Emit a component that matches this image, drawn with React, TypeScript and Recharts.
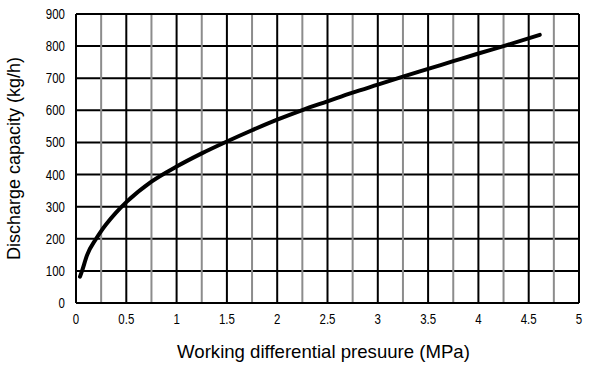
import React from "react";
import { LineChart, Line, XAxis, YAxis, CartesianGrid, ReferenceLine, Label } from "recharts";

const pressure = [0.04, 0.06, 0.11, 0.2, 0.25, 0.3, 0.4, 0.5, 0.75, 1, 1.25, 1.5, 1.75, 2, 2.25, 2.5, 2.75, 3, 3.25, 3.5, 3.75, 4, 4.25, 4.61];
const capacity = [82, 100, 149, 200, 224, 245, 282, 314, 378, 425, 466, 503, 538, 571, 601, 628, 655, 680, 705, 729, 753, 777, 800, 835];
const xTicks = [0, 0.5, 1, 1.5, 2, 2.5, 3, 3.5, 4, 4.5, 5];
const xMinorLines = [0.25, 0.75, 1.25, 1.75, 2.25, 2.75, 3.25, 3.75, 4.25, 4.75];
const yTicks = [0, 100, 200, 300, 400, 500, 600, 700, 800, 900];

const data = pressure.map((p, i) => ({ p, c: capacity[i] }));

const narrowFont = "'Liberation Sans', Arial, sans-serif";

function XTick(props: any) {
  const { x, y, payload } = props;
  return (
    <text transform={`translate(${x},${y + 19}) scale(0.82,1)`} textAnchor="middle" fontFamily={narrowFont} fontSize={14} fill="#000">
      {payload.value}
    </text>
  );
}

function YTick(props: any) {
  const { x, y, payload } = props;
  return (
    <text transform={`translate(${x - 9},${y + 5}) scale(0.82,1)`} textAnchor="end" fontFamily={narrowFont} fontSize={14} fill="#000">
      {payload.value}
    </text>
  );
}

export default function App() {
  return (
    <div style={{ position: "absolute", left: 0, top: 0, background: "#fff" }}>
      <LineChart width={600} height={367} data={data} margin={{ top: 14, right: 21, bottom: 0, left: 0 }}>
        <CartesianGrid stroke="#000" strokeWidth={2} />
        {xMinorLines.map((x) => (
          <ReferenceLine key={x} x={x} stroke="#8c8c8c" strokeWidth={2} />
        ))}
        <XAxis
          dataKey="p"
          type="number"
          domain={[0, 5]}
          ticks={xTicks}
          tickLine={false}
          tickSize={0}
          axisLine={{ stroke: "#000", strokeWidth: 2 }}
          tick={<XTick />}
          height={64}
        >
          <Label value="Working differential presuure (MPa)" position="insideBottom" offset={9} dx={-4} style={{ fontFamily: "'Liberation Sans', Arial, sans-serif", fontSize: 18.6, fill: "#000" }} />
        </XAxis>
        <YAxis
          type="number"
          domain={[0, 900]}
          ticks={yTicks}
          tickLine={false}
          tickSize={0}
          axisLine={{ stroke: "#000", strokeWidth: 2 }}
          tick={<YTick />}
          width={76}
        >
          <Label value="Discharge capacity (kg/h)" angle={-90} position="insideLeft" offset={14} style={{ textAnchor: "middle", fontFamily: "'Liberation Sans', Arial, sans-serif", fontSize: 18, fill: "#000" }} />
        </YAxis>
        <ReferenceLine x={5} stroke="#000" strokeWidth={2} />
        <ReferenceLine y={900} stroke="#000" strokeWidth={2} />
        <Line type="monotone" dataKey="c" stroke="#000" strokeWidth={4} strokeLinecap="round" dot={false} isAnimationActive={false} />
      </LineChart>
    </div>
  );
}
